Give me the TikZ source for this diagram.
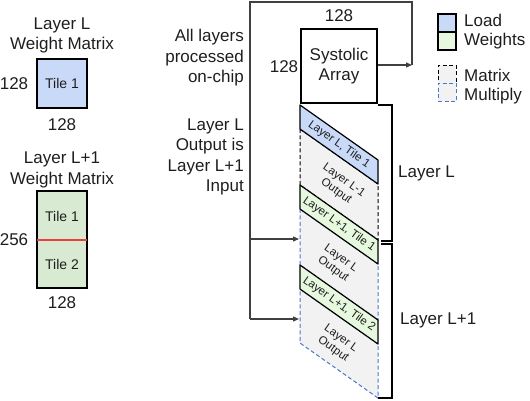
\documentclass[tikz,border=0pt]{standalone}
\usepackage{fontspec}
\setmainfont{Liberation Sans}
\usetikzlibrary{arrows.meta}
\definecolor{loadblue}{HTML}{C9DAF8}
\definecolor{wgreen}{HTML}{E6F9DF}
\definecolor{lgreen}{HTML}{D9EAD3}
\definecolor{mmgray}{HTML}{F2F2F2}
\definecolor{dblue}{HTML}{4A78C8}
\definecolor{txt}{HTML}{1E1E1E}
\definecolor{lnk}{HTML}{404040}
\definecolor{tilered}{RGB}{236,64,64}
\begin{document}
\begin{tikzpicture}[x=1pt,y=-1pt,
  every node/.style={text=txt, inner sep=0pt},
  big/.style={font=\fontsize{17}{20.5}\selectfont},
  mid/.style={font=\fontsize{14}{17}\selectfont},
  small/.style={font=\fontsize{11.5}{13.5}\selectfont, rotate=-35.2, align=center},
  conn/.style={draw=lnk, line width=1.2pt},
  arr/.style={conn, -{Triangle[length=6pt,width=5pt,open,fill=lnk]}},
  band/.style={draw=black, line width=1.2pt, line join=round},
  mmblack/.style={fill=mmgray, draw=black, line width=1pt, dash pattern=on 4pt off 2.5pt},
  mmblue/.style={fill=mmgray, draw=dblue, line width=1pt, dash pattern=on 4pt off 2.5pt},
  tilebox/.style={draw=black, line width=1.2pt}]
\useasboundingbox (0,0) rectangle (530,400);

% ---------- left: weight matrices ----------
\node[big, align=center] (lLabel) at (62,35.5) {Layer L\\Weight Matrix};
\node[tilebox, fill=loadblue, minimum width=50pt, minimum height=49pt] (tileL) at (62,83.5) {};
\node[mid] (tileLtxt) at (tileL.center) {Tile 1};
\node[big] (lrows) at (14,84) {128};
\node[big] (lcols) at (62,125) {128};

\node[big, align=center] (l1Label) at (62,170) {Layer L+1\\Weight Matrix};
\node[tilebox, fill=lgreen, minimum width=50pt, minimum height=97pt] (tileL1) at (62,239.5) {};
\coordinate (redA) at ([xshift=0.7pt]tileL1.west);
\coordinate (redB) at ([xshift=-0.7pt]tileL1.east);
\draw[draw=tilered, line width=2pt] (redA) -- (redB);
\node[mid] (t1txt) at (62,216) {Tile 1};
\node[mid] (t2txt) at (62,264) {Tile 2};
\node[big] (l1rows) at (14,240) {256};
\node[big] (l1cols) at (62,303) {128};

% ---------- middle labels ----------
\node[big, align=right, anchor=east] (allL) at (244,58) {All layers\\processed\\on-chip};
\node[big, align=right, anchor=east] (outL) at (244,157) {Layer L\\Output is\\Layer L+1\\Input};

% ---------- systolic array ----------
\node[draw=black, line width=2.6pt, minimum width=76pt, minimum height=74pt, big, align=center] (sys) at (339,66) {Systolic\\Array};
\node[big] (sysTop) at (339,16) {128};
\node[big] (sysLeft) at (284,67) {128};

% loop connector
\coordinate (loopB) at (250,319);
\coordinate (loopM) at (250,239);
\coordinate (loopTL) at (250,2);
\coordinate (loopTR) at (412,2);
\coordinate (loopR) at (412,65);
\draw[conn] (loopB) -- (loopTL) -- (loopTR) -- (loopR);
\draw[arr] (sys.east |- loopR) -- (loopR);
\coordinate (in1) at (299,239);
\coordinate (in2) at (299,319);
\draw[arr] (loopM) -- (in1);
\draw[arr] (loopB) -- (in2);

% ---------- pipeline column ----------
\draw[mmblack] (300,129) -- (378,184) -- (378,240) -- (300,185) -- cycle;
\draw[mmblue] (300,209) -- (378,264) -- (378,320) -- (300,265) -- cycle;
\draw[mmblue] (300,289) -- (378,344) -- (378,398) -- (300,343) -- cycle;

\draw[band, fill=loadblue] (300,105) -- (378,160) -- (378,184) -- (300,129) -- cycle;
\draw[band, fill=wgreen] (300,185) -- (378,240) -- (378,264) -- (300,209) -- cycle;
\draw[band, fill=wgreen] (300,265) -- (378,320) -- (378,344) -- (300,289) -- cycle;

\node[small] (b1) at (339,144.5) {Layer L, Tile 1};
\node[small] (m1) at (340,186) {Layer L-1\\Output};
\node[small] (b2) at (339,224.5) {Layer L+1, Tile 1};
\node[small] (m2) at (337,264) {Layer L\\Output};
\node[small] (b3) at (339,304.5) {Layer L+1, Tile 2};
\node[small] (m3) at (337,344) {Layer L\\Output};

% ---------- brackets ----------
\draw[draw=black, line width=1.2pt] (378,105) -- (392,105) -- (392,241) -- (381,241);
\draw[draw=black, line width=1.2pt] (381,244) -- (392,244) -- (392,398) -- (378,398);
\node[big, anchor=west] (bL) at (398,173) {Layer L};
\node[big, anchor=west] (bL1) at (400,320) {Layer L+1};

% ---------- legend ----------
\node[tilebox, fill=loadblue, minimum width=18pt, minimum height=18pt] (lgLoad) at (447,23) {};
\node[tilebox, fill=wgreen, minimum width=18pt, minimum height=18pt] (lgW) at (447,41) {};
\node[big, anchor=west] (lgLoadT) at (464,20) {Load};
\node[big, anchor=west] (lgWT) at (464,41) {Weights};
\node[mmblack, minimum width=18pt, minimum height=18pt] (lgM) at (447,74) {};
\node[mmblue, minimum width=18pt, minimum height=18pt] (lgMu) at (447,92) {};
\node[big, anchor=west] (lgMT) at (464,75) {Matrix};
\node[big, anchor=west] (lgMuT) at (464,96) {Multiply};
\end{tikzpicture}
\end{document}
